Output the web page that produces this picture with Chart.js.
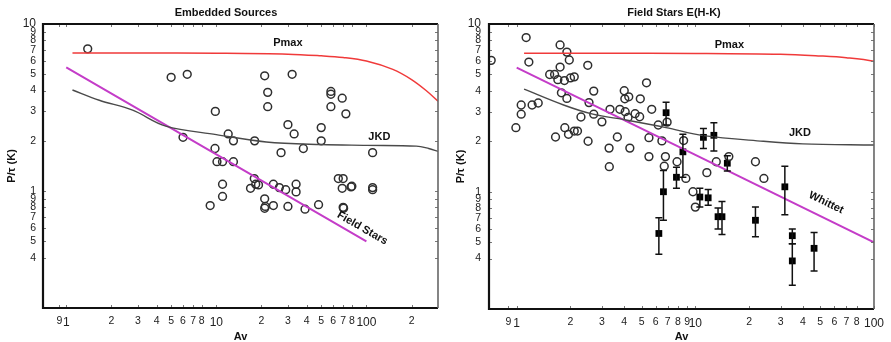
<!DOCTYPE html>
<html>
<head>
<meta charset="utf-8">
<script src="https://cdn.jsdelivr.net/npm/chart.js@4/dist/chart.umd.min.js"></script>
<style>
    body { margin: 0; background: #fff; }
    #wrap { position: relative; width: 891px; height: 342px; }
    .panel { position: absolute; top: 0; height: 342px; }
</style>
</head>
<body>
<div id="wrap">
    <div class="panel" style="left:0;width:445px"><canvas id="embedded"></canvas></div>
    <div class="panel" style="left:445px;width:446px"><canvas id="field"></canvas></div>
</div>
<script>
// --- data (Av, P/tau) ---
const embAv = [1.39, 5.0, 6.4, 9.85, 6.0, 9.8, 12, 13, 10.1, 11, 13, 18, 21, 22, 22, 32, 30, 33, 27, 38,
    50, 50, 58, 58, 58, 69, 73, 110, 9.1, 11, 11, 16.9, 17.9, 18.3, 19.1, 21, 21, 21.2, 24, 24,
    26.3, 29, 30, 34, 34, 39, 48, 65, 70, 69, 79, 80, 70, 70.5, 110, 110];
const embP = [7.1, 4.8, 5.0, 3.0, 2.1, 1.8, 2.2, 2.0, 1.5, 1.5, 1.5, 2.0, 4.9, 3.9, 3.2, 5.0, 2.5, 2.2, 1.7, 1.8,
    2.4, 2.0, 3.95, 3.8, 3.2, 3.6, 2.9, 1.7, 0.82, 1.1, 0.93, 1.04, 1.19, 1.1, 1.09, 0.9, 0.79, 0.81, 1.1, 0.82,
    1.05, 1.02, 0.81, 1.1, 0.99, 0.78, 0.83, 1.19, 1.19, 1.04, 1.06, 1.07, 0.8, 0.79, 1.05, 1.02];

const fieldAv = [0.72, 1.13, 1.17, 0.99, 1.06, 1.06, 1.22, 1.32, 1.75, 1.91, 1.97, 1.53, 1.63, 1.70, 1.75, 1.85,
    2.0, 2.1, 2.5, 1.78, 1.91, 1.65, 1.86, 1.95, 2.1, 2.19, 2.29, 2.51, 2.54, 2.7, 2.7, 3.0, 3.33, 3.29,
    3.66, 3.78, 4.0, 4.03, 4.24, 4.05, 4.2, 4.3, 4.6, 4.88, 4.92, 5.33, 5.7, 5.5, 6.2, 6.5, 5.5, 6.8,
    8.6, 7.9, 15.4, 13.1, 21.7, 6.95, 3.3, 6.7, 8.85, 11.6, 24.2, 9.7, 10.0];
const fieldP = [6.07, 8.3, 5.93, 2.41, 2.9, 3.29, 3.29, 3.38, 7.5, 6.8, 6.1, 5.0, 5.0, 4.66, 5.54, 4.6,
    4.77, 4.84, 5.67, 3.89, 3.6, 2.12, 2.41, 2.2, 2.3, 2.3, 2.79, 2.0, 3.4, 3.98, 2.9, 2.61, 3.1, 1.82,
    2.12, 3.1, 4.0, 3.58, 3.68, 3.0, 2.77, 1.82, 2.92, 2.8, 3.58, 4.46, 3.1, 2.1, 2.5, 2.01, 1.62, 1.62,
    2.02, 1.51, 1.62, 1.51, 1.51, 2.6, 1.41, 1.42, 1.2, 1.3, 1.2, 1.0, 0.81];

const sqAv = [6.86, 8.52, 11.1, 12.7, 15.1, 6.25, 6.63, 7.84, 10.6, 11.8, 13.4, 14.1, 21.7, 31.7, 34.9, 34.9, 46.2];
const sqP = [2.96, 1.73, 2.11, 2.17, 1.48, 0.564, 1.0, 1.22, 0.93, 0.92, 0.71, 0.71, 0.676, 1.07, 0.547, 0.387, 0.46];
const sqLo = [2.5, 1.22, 1.81, 1.75, 1.33, 0.424, 0.676, 1.05, 0.81, 0.83, 0.6, 0.556, 0.54, 0.73, 0.49, 0.277, 0.337];
const sqHi = [3.42, 2.2, 2.38, 2.58, 1.64, 0.70, 1.34, 1.4, 1.05, 1.03, 0.8, 0.876, 0.81, 1.42, 0.6, 0.49, 0.572];

// model curves
const pmaxAv = [1.1, 3, 10, 30, 50, 70, 100, 150, 200, 250, 300];
const pmaxP = [6.7, 6.7, 6.68, 6.6, 6.45, 6.3, 6.0, 5.35, 4.65, 4.0, 3.45];
const jkdLeftAv = [1.1, 1.66, 2.77, 4.6, 10, 21.5, 50, 100, 215, 260, 300];
const jkdLeftP = [4.03, 3.5, 3.05, 2.45, 2.18, 1.97, 1.9, 1.88, 1.86, 1.8, 1.73];
const jkdRightAv = [1.1, 1.83, 2.67, 4.06, 6.86, 11.1, 24, 40, 100];
const jkdRightP = [4.09, 3.29, 2.9, 2.68, 2.41, 2.16, 2.0, 1.93, 1.9];
const whittetAv = [1, 100];
const whittetP = [5.5, 0.5];

// axis ticks
const yTicks = [0.4, 0.5, 0.6, 0.7, 0.8, 0.9, 1, 2, 3, 4, 5, 6, 7, 8, 9, 10];
const yLabels = ['4', '5', '6', '7', '8', '9', '1', '2', '3', '4', '5', '6', '7', '8', '9', '10'];
const leftXTicks = [0.9, 1, 2, 3, 4, 5, 6, 7, 8, 10, 20, 30, 40, 50, 60, 70, 80, 100, 200];
const leftXLabels = ['9', '1', '2', '3', '4', '5', '6', '7', '8', '10', '2', '3', '4', '5', '6', '7', '8', '100', '2'];
const rightXTicks = [0.9, 1, 2, 3, 4, 5, 6, 7, 8, 9, 10, 20, 30, 40, 50, 60, 70, 80, 100];
const rightXLabels = ['9', '1', '2', '3', '4', '5', '6', '7', '8', '9', '10', '2', '3', '4', '5', '6', '7', '8', '100'];

const FONT = "'Liberation Sans', Arial, Helvetica, sans-serif";

function pts(xs, ys) {
    return xs.map((x, i) => ({ x: x, y: ys[i] }));
}

function curve(xs, ys, color, width) {
    return {
        type: 'line', data: pts(xs, ys), borderColor: color, borderWidth: width,
        pointRadius: 0, tension: 0.35, fill: false
    };
}

function circles(xs, ys) {
    return {
        data: pts(xs, ys), pointStyle: 'circle', pointRadius: 3.9,
        borderColor: '#2e2e2e', borderWidth: 1.5, backgroundColor: 'rgba(0,0,0,0)'
    };
}

// error bars for the square points
const errBarPlugin = {
    id: 'errbars',
    afterDatasetsDraw(chart, args, opts) {
        if (!opts.lo) return;
        const { ctx, scales: { x, y } } = chart;
        ctx.save();
        ctx.strokeStyle = '#111';
        ctx.lineWidth = 1.5;
        opts.av.forEach((av, i) => {
            const px = x.getPixelForValue(av);
            const y1 = y.getPixelForValue(opts.lo[i]);
            const y2 = y.getPixelForValue(opts.hi[i]);
            ctx.beginPath();
            ctx.moveTo(px, y1); ctx.lineTo(px, y2);
            ctx.moveTo(px - 3.5, y1); ctx.lineTo(px + 3.5, y1);
            ctx.moveTo(px - 3.5, y2); ctx.lineTo(px + 3.5, y2);
            ctx.stroke();
        });
        ctx.restore();
    }
};

// box round the plot with small inward ticks
const framePlugin = {
    id: 'frame',
    afterDraw(chart) {
        const { ctx, chartArea: a, scales: { x, y } } = chart;
        ctx.save();
        ctx.strokeStyle = '#777';
        ctx.lineWidth = 1;
        ctx.beginPath();
        x.ticks.forEach(t => {
            const px = Math.round(x.getPixelForValue(t.value)) + 0.5;
            ctx.moveTo(px, a.bottom); ctx.lineTo(px, a.bottom - 3);
            ctx.moveTo(px, a.top); ctx.lineTo(px, a.top + 3);
        });
        y.ticks.forEach(t => {
            const py = Math.round(y.getPixelForValue(t.value)) + 0.5;
            ctx.moveTo(a.left, py); ctx.lineTo(a.left + 3, py);
            ctx.moveTo(a.right, py); ctx.lineTo(a.right - 3, py);
        });
        ctx.stroke();
        ctx.strokeStyle = '#111';
        ctx.lineWidth = 2.2;
        ctx.beginPath();
        ctx.moveTo(a.right, a.top); ctx.lineTo(a.left, a.top);
        ctx.lineTo(a.left, a.bottom); ctx.lineTo(a.right, a.bottom);
        ctx.stroke();
        ctx.strokeStyle = '#666';
        ctx.lineWidth = 1.6;
        ctx.beginPath();
        ctx.moveTo(a.right, a.top); ctx.lineTo(a.right, a.bottom);
        ctx.stroke();
        ctx.restore();
    }
};

// panel title and curve labels
const notesPlugin = {
    id: 'notes',
    afterDraw(chart, args, opts) {
        const { ctx, scales: { x, y } } = chart;
        ctx.save();
        ctx.fillStyle = '#111';
        ctx.font = 'bold 11px ' + FONT;
        ctx.textAlign = 'center';
        ctx.textBaseline = 'middle';
        ctx.fillText(opts.title, opts.titleX, 12.5);
        opts.items.forEach(it => {
            ctx.save();
            ctx.translate(x.getPixelForValue(it.av), y.getPixelForValue(it.p));
            ctx.rotate(it.rot * Math.PI / 180);
            ctx.fillText(it.text, 0, 0);
            ctx.restore();
        });
        ctx.restore();
    }
};

function makePanel(id, cfg) {
    return new Chart(document.getElementById(id), {
        type: 'scatter',
        data: { datasets: cfg.datasets },
        options: {
            responsive: true,
            maintainAspectRatio: false,
            animation: false,
            layout: { padding: { top: 24, right: cfg.padRight, left: 0, bottom: 0 } },
            plugins: {
                legend: { display: false },
                tooltip: { enabled: false },
                errbars: cfg.errbars || {},
                notes: { title: cfg.title, titleX: cfg.titleX, items: cfg.notes }
            },
            scales: {
                x: {
                    type: 'logarithmic', min: 0.7, max: cfg.xMax,
                    afterBuildTicks: s => { s.ticks = cfg.xTicks.map(v => ({ value: v })); },
                    afterFit: s => { s.height = cfg.xHeight; },
                    grid: { display: false, drawTicks: false },
                    border: { display: false },
                    ticks: {
                        autoSkip: false, maxRotation: 0, padding: 7, color: '#222',
                        callback: (v, i) => cfg.xLabels[i],
                        font: c => ({ family: FONT, size: (c.tick && [1, 10, 100].includes(c.tick.value)) ? 12 : 10.5 })
                    },
                    title: {
                        display: true, text: 'Av', color: '#111',
                        font: { family: FONT, size: 11, weight: 'bold' },
                        padding: { top: 0, bottom: -1.5 }
                    }
                },
                y: {
                    type: 'logarithmic', min: 0.2, max: 10,
                    afterBuildTicks: s => { s.ticks = yTicks.map(v => ({ value: v })); },
                    afterFit: s => { s.width = cfg.yWidth; },
                    grid: { display: false, drawTicks: false },
                    border: { display: false },
                    ticks: {
                        autoSkip: false, padding: cfg.yPad, color: '#222',
                        callback: (v, i) => yLabels[i],
                        font: c => ({ family: FONT, size: (c.tick && c.tick.value === 10) ? 12 : 10.5 })
                    },
                    title: {
                        display: true, text: 'P/τ (K)', color: '#111',
                        font: { family: FONT, size: 11, weight: 'bold' },
                        padding: { top: cfg.yTitlePad, bottom: 0 }
                    }
                }
            }
        },
        plugins: [errBarPlugin, framePlugin, notesPlugin]
    });
}

makePanel('embedded', {
    title: 'Embedded Sources', titleX: 226,
    xMax: 300, xTicks: leftXTicks, xLabels: leftXLabels,
    padRight: 7, xHeight: 34, yWidth: 43, yPad: 7, yTitlePad: 5.7,
    datasets: [
        curve(pmaxAv, pmaxP, '#f03a3a', 1.5),
        curve(jkdLeftAv, jkdLeftP, '#4a4a4a', 1.4),
        curve(whittetAv, whittetP, '#c43cc8', 2),
        circles(embAv, embP)
    ],
    notes: [
        { text: 'Pmax', av: 30, p: 7.7, rot: 0 },
        { text: 'JKD', av: 122, p: 2.1, rot: 0 },
        { text: 'Field Stars', av: 94, p: 0.6, rot: 30 }
    ]
});

makePanel('field', {
    title: 'Field Stars E(H-K)', titleX: 229,
    xMax: 100, xTicks: rightXTicks, xLabels: rightXLabels,
    padRight: 8, xHeight: 33, yWidth: 44, yPad: 8, yTitlePad: 9.4,
    datasets: [
        curve(pmaxAv, pmaxP, '#f03a3a', 1.5),
        curve(jkdRightAv, jkdRightP, '#4a4a4a', 1.4),
        curve(whittetAv, whittetP, '#c43cc8', 2),
        circles(fieldAv, fieldP),
        {
            data: pts(sqAv, sqP), pointStyle: 'rect', pointRadius: 4.8,
            borderColor: '#000', borderWidth: 0, backgroundColor: '#000'
        }
    ],
    errbars: { av: sqAv, lo: sqLo, hi: sqHi },
    notes: [
        { text: 'Pmax', av: 15.5, p: 7.5, rot: 0 },
        { text: 'JKD', av: 38.5, p: 2.23, rot: 0 },
        { text: 'Whittet', av: 54, p: 0.86, rot: 26 }
    ]
});
</script>
</body>
</html>
